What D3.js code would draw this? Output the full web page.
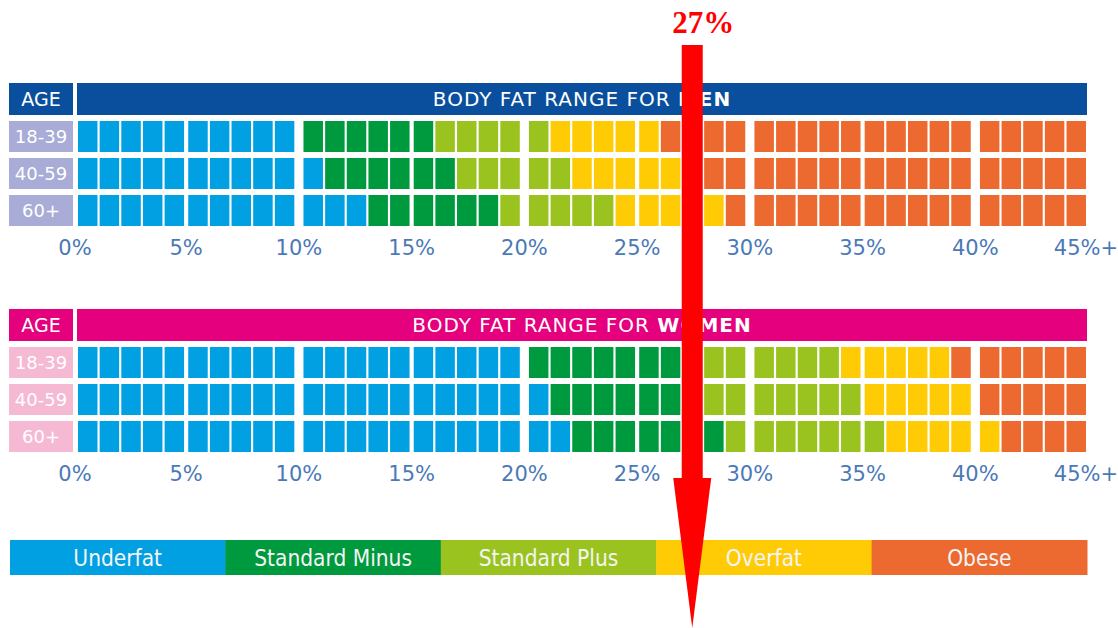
<!DOCTYPE html>
<html>
<head>
<meta charset="utf-8">
<script src="https://cdn.jsdelivr.net/npm/d3@7"></script>
<style>
  body { margin: 0; background: #fff; }
  svg { display: block; }
</style>
</head>
<body>
<div id="chart"></div>
<script>
// age groups (rows) and legend categories
const ages = ["18-39", "40-59", "60+"];
const categories = ["Underfat", "Standard Minus", "Standard Plus", "Overfat", "Obese"];
const categoryColors = ["#00a0e3", "#009a3e", "#9bc31f", "#ffcb05", "#ec6930"];

// first body fat % (cell index) of each category, per age row
const menStarts = [
  [0, 10, 16, 21, 26],
  [0, 11, 17, 22, 28],
  [0, 13, 19, 24, 29]
];
const womenStarts = [
  [0, 20, 27, 34, 39],
  [0, 21, 28, 35, 40],
  [0, 22, 29, 36, 41]
];

const tickValues = [0, 5, 10, 15, 20, 25, 30, 35, 40, 45];
const tickLabels = ["0%", "5%", "10%", "15%", "20%", "25%", "30%", "35%", "40%", "45%+"];
const cellCount = 45;
const markerValue = 27;
const markerLabel = "27%";

const width = 1118, height = 628;

const svg = d3.select("#chart").append("svg")
  .attr("width", width)
  .attr("height", height);

// cells are grouped by 5 with a small gap, and by 10 with a wider gap
const cellFrac = 0.9;
const unit = i => i + Math.floor(i / 5) * 0.092 + Math.floor(i / 10) * 0.231;
const x = d3.scaleLinear()
  .domain([0, unit(cellCount - 1) + cellFrac])
  .range([78, 1086]);
const cellX = i => x(unit(i));
const cellW = x(cellFrac) - x(0);

const tickX = v => {
  if (v === 0) return cellX(0) - 3;
  if (v >= cellCount) return cellX(cellCount - 1) + cellW;
  return (cellX(v - 1) + cellW + cellX(v)) / 2;
};

const catOf = (starts, i) => d3.bisectRight(starts, i) - 1;

const sections = [
  { title: "BODY FAT RANGE FOR ", bold: "MEN", starts: menStarts, top: 83, dark: "#0a4f9d", light: "#a8acd6" },
  { title: "BODY FAT RANGE FOR ", bold: "WOMEN", starts: womenStarts, top: 309, dark: "#e5007d", light: "#f6b9d3" }
];

const font = "'DejaVu Sans', sans-serif";

sections.forEach(sec => {
  const g = svg.append("g").attr("transform", `translate(0,${sec.top})`);

  // header
  g.append("rect")
    .attr("x", 9).attr("y", 0)
    .attr("width", 64).attr("height", 32)
    .attr("fill", sec.dark);
  g.append("text")
    .attr("x", 41).attr("y", 16)
    .attr("dy", "0.36em")
    .attr("text-anchor", "middle")
    .attr("fill", "#fff")
    .style("font-family", font)
    .style("font-size", "19px")
    .text("AGE");

  g.append("rect")
    .attr("x", x.range()[0] - 1).attr("y", 0)
    .attr("width", x.range()[1] - x.range()[0] + 2).attr("height", 32)
    .attr("fill", sec.dark);
  const title = g.append("text")
    .attr("x", (x.range()[0] + x.range()[1]) / 2).attr("y", 16)
    .attr("dy", "0.36em")
    .attr("text-anchor", "middle")
    .attr("fill", "#fff")
    .style("font-family", font)
    .style("font-size", "20px")
    .style("letter-spacing", "1px");
  title.append("tspan").text(sec.title);
  title.append("tspan").style("font-weight", "bold").text(sec.bold);

  // rows
  const y = d3.scaleBand()
    .domain(ages)
    .range([38, 143])
    .paddingInner(0.162);

  g.selectAll("rect.age")
    .data(ages)
    .enter()
    .append("rect")
    .attr("class", "age")
    .attr("x", 9)
    .attr("y", d => y(d))
    .attr("width", 64)
    .attr("height", y.bandwidth())
    .attr("fill", sec.light);

  g.selectAll("text.age")
    .data(ages)
    .enter()
    .append("text")
    .attr("class", "age")
    .attr("x", 41)
    .attr("y", d => y(d) + y.bandwidth() / 2)
    .attr("dy", "0.36em")
    .attr("text-anchor", "middle")
    .attr("fill", "#fff")
    .style("font-family", font)
    .style("font-size", "18px")
    .text(d => d);

  const cells = [];
  ages.forEach((age, r) => {
    d3.range(cellCount).forEach(i => cells.push({ age, i, cat: catOf(sec.starts[r], i) }));
  });

  g.selectAll("rect.cell")
    .data(cells)
    .enter()
    .append("rect")
    .attr("class", "cell")
    .attr("x", d => cellX(d.i))
    .attr("y", d => y(d.age))
    .attr("width", cellW)
    .attr("height", y.bandwidth())
    .attr("fill", d => categoryColors[d.cat]);

  // percent ticks
  g.selectAll("text.tick")
    .data(tickValues)
    .enter()
    .append("text")
    .attr("class", "tick")
    .attr("x", d => tickX(d))
    .attr("y", 172)
    .attr("text-anchor", "middle")
    .attr("fill", "#4a79b8")
    .style("font-family", font)
    .style("font-size", "21px")
    .text((d, k) => tickLabels[k]);
});

// legend
const lx = d3.scaleBand()
  .domain(categories)
  .range([10, 1087]);

const legend = svg.append("g").attr("transform", "translate(0,540)");
legend.selectAll("rect")
  .data(categories)
  .enter()
  .append("rect")
  .attr("x", d => lx(d))
  .attr("y", 0)
  .attr("width", lx.bandwidth() + 0.5)
  .attr("height", 35)
  .attr("fill", (d, k) => categoryColors[k]);
legend.selectAll("text")
  .data(categories)
  .enter()
  .append("text")
  .attr("x", d => lx(d) + lx.bandwidth() / 2)
  .attr("y", 17.5)
  .attr("dy", "0.36em")
  .attr("text-anchor", "middle")
  .attr("fill", "#f4f4f4")
  .style("font-family", "'DejaVu Sans Condensed', 'Liberation Sans Narrow', sans-serif")
  .style("font-size", "22.5px")
  .text(d => d);

// red marker arrow at 27%
const ax = cellX(markerValue) + cellW / 2;
const arrow = svg.append("g").attr("class", "marker");
arrow.append("rect")
  .attr("x", ax - 10.5).attr("y", 45)
  .attr("width", 21).attr("height", 435)
  .attr("fill", "#ff0000");
arrow.append("path")
  .attr("d", d3.line()([[ax - 19, 478], [ax + 19, 478], [ax, 628]]) + "Z")
  .attr("fill", "#ff0000");
arrow.append("text")
  .attr("x", ax + 11).attr("y", 33)
  .attr("text-anchor", "middle")
  .attr("fill", "#ff0000")
  .style("font-family", "'Liberation Serif', 'Times New Roman', serif")
  .style("font-weight", "bold")
  .style("font-size", "31px")
  .text(markerLabel);
</script>
</body>
</html>
